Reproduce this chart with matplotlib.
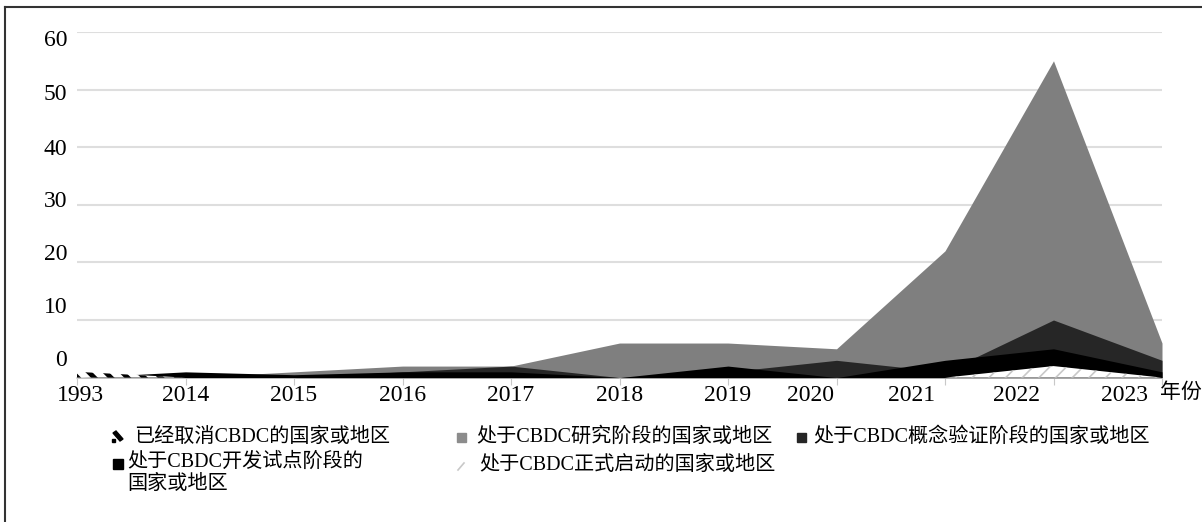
import numpy as np
import matplotlib
matplotlib.use("Agg")
import matplotlib.pyplot as plt
from matplotlib.patches import Rectangle, Polygon
from matplotlib.lines import Line2D
import matplotlib.transforms as mtransforms

# --- Fonts: serif digits, CJK fallback ---
plt.rcParams["font.family"] = ["Liberation Serif", "Noto Sans CJK SC"]
plt.rcParams["hatch.linewidth"] = 1.2

# --- Data ---
years = ["1993", "2014", "2015", "2016", "2017", "2018", "2019", "2020", "2021", "2022", "2023"]
cancelled = [1, 0, 0, 0, 0, 0, 0, 0, 0, 0, 0]
research = [0, 0, 1, 2, 2, 6, 6, 5, 22, 55, 6]
concept = [0, 0, 0, 1, 2, 0, 1, 3, 1, 10, 3]
pilot = [0, 1, 0.5, 1, 1, 0, 2, 0, 3, 5, 1]
launched = [0, 0, 0, 0, 0, 0, 0, 0, 0, 2, 0]

labels = [
  "已经取消CBDC的国家或地区",
  "处于CBDC研究阶段的国家或地区",
  "处于CBDC概念验证阶段的国家或地区",
  "处于CBDC开发试点阶段的\n国家或地区",
  "处于CBDC正式启动的国家或地区",
]
y_ticks = [0, 10, 20, 30, 40, 50, 60]

W, H = 1202, 522
fig = plt.figure(figsize=(W / 100, H / 100), dpi=100)
ax = fig.add_axes([77 / W, 1 - 377.6 / H, (1162 - 77) / W, (377.6 - 32) / H])

x = np.arange(len(years))

# --- Overlapping areas, back to front ---
ax.fill_between(x, 0, research, color="#7f7f7f", linewidth=0, zorder=2)
ax.fill_between(x, 0, concept, color="#262626", linewidth=0, zorder=3)
ax.fill_between(x, 0, pilot, color="#000000", linewidth=0, zorder=4)
ax.fill_between(x, 0, launched, facecolor="white", edgecolor="#c8c8c8",
                hatch="//", linewidth=0, zorder=5)
canc = ax.fill_between(x, 0, cancelled, facecolor="white", edgecolor="black",
                       hatch="\\\\", linewidth=0, zorder=6)
if hasattr(canc, "set_hatch_linewidth"):
  canc.set_hatch_linewidth(3.5)

# --- Axes styling ---
ax.set_xlim(0, len(years) - 1)
ax.set_ylim(0, 60)
ax.set_yticks(y_ticks)
ax.set_xticks(x)
ax.set_xticklabels(years)
ax.grid(axis="y", color="#dedede", linewidth=1.5, zorder=0)
ax.set_axisbelow(True)
for s in ["top", "right", "left"]:
  ax.spines[s].set_visible(False)
ax.spines["bottom"].set_color("#d0d0d0")
ax.spines["bottom"].set_linewidth(1.2)
ax.spines["bottom"].set_zorder(1)
ax.tick_params(axis="y", length=0, labelsize=17, pad=7)
ax.tick_params(axis="x", length=5, color="#c8c8c8", labelsize=17, pad=0)

# small label shifts, as in the scanned figure
x_shift = [3, 0, 0, 0, 0, 0, 0, -26, -33, -37, -38]
for lab, dx in zip(ax.get_xticklabels(), x_shift):
  lab.set_transform(lab.get_transform() + mtransforms.ScaledTranslation(dx / 100, 0, fig.dpi_scale_trans))
y_shift = [20, 15, 10, 6, 0, -2, -6]
for lab, dy in zip(ax.get_yticklabels(), y_shift):
  lab.set_transform(lab.get_transform() + mtransforms.ScaledTranslation(0, dy / 100, fig.dpi_scale_trans))

fig.text(1160 / W, 1 - 393 / H, "年份", fontsize=15, va="center", ha="left")

# --- Legend drawn by hand ---
fs = 14.5
def fy(py):
  return 1 - py / H

# row 1
fig.add_artist(Polygon([[113 / W, fy(433)], [116 / W, fy(431)], [123 / W, fy(439)], [120 / W, fy(441)]],
                       closed=True, color="black", transform=fig.transFigure))
fig.add_artist(Rectangle((112 / W, fy(441.5)), 3 / W, 3 / H, color="black", transform=fig.transFigure))
fig.text(134 / W, fy(437), labels[0], fontsize=fs, va="center")
fig.add_artist(Rectangle((457 / W, fy(442)), 9 / W, 9 / H, color="#8c8c8c", transform=fig.transFigure))
fig.text(476 / W, fy(437), labels[1], fontsize=fs, va="center")
fig.add_artist(Rectangle((797 / W, fy(442)), 9 / W, 9 / H, color="#262626", transform=fig.transFigure))
fig.text(813 / W, fy(437), labels[2], fontsize=fs, va="center")
# row 2
fig.add_artist(Rectangle((113 / W, fy(469)), 10 / W, 10 / H, color="black", transform=fig.transFigure))
fig.text(127 / W, fy(453), labels[3], fontsize=fs, va="top", linespacing=1.2)
fig.add_artist(Line2D([458 / W, 464 / W], [fy(470), fy(463)], color="#c8c8c8", linewidth=1.2,
                      transform=fig.transFigure))
fig.text(479 / W, fy(465), labels[4], fontsize=fs, va="center")

# --- Frame lines (top and left) ---
fig.add_artist(Line2D([5 / W, 1], [fy(7), fy(7)], color="#333333", linewidth=1.5, transform=fig.transFigure))
fig.add_artist(Line2D([5 / W, 5 / W], [fy(7), 0], color="#333333", linewidth=1.5, transform=fig.transFigure))

fig.savefig("out.png", dpi=100)
